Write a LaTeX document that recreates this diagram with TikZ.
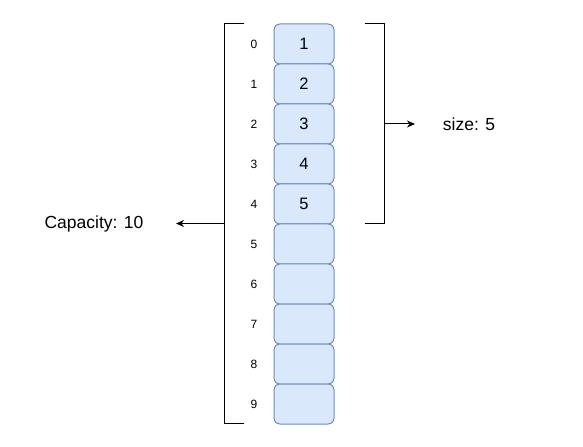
\documentclass[tikz,border=0pt]{standalone}
\usepackage{fontspec}
\setmainfont{Liberation Sans}
\usetikzlibrary{arrows.meta}
\definecolor{boxfill}{HTML}{DAE8FC}
\definecolor{boxline}{HTML}{6C8EBF}
\tikzset{
  cell/.style={draw=boxline, fill=boxfill, line width=1bp, rounded corners=6bp,
    minimum width=60bp, minimum height=40bp, inner sep=0pt, anchor=center,
    font=\fontsize{16.5bp}{18bp}\selectfont},
  idx/.style={inner sep=0pt, anchor=center, font=\fontsize{12bp}{14bp}\selectfont},
  lbl/.style={inner sep=0pt, anchor=center, font=\fontsize{17.5bp}{20bp}\selectfont},
  brk/.style={line width=1bp, black},
  arr/.style={line width=1bp, black, -{Stealth[length=8bp, width=7bp, inset=2.5bp]}}
}
\begin{document}
\begin{tikzpicture}[x=1bp, y=-1bp]
\useasboundingbox (0,0) rectangle (583,447);
\foreach \i/\t in {0/1,1/2,2/3,3/4,4/5,5/,6/,7/,8/,9/} {
  \node[cell] (b\i) at (304, 44+40*\i) {\t};
  \node[idx] (i\i) at (254, 44+40*\i) {\i};
}
% left bracket
\coordinate (lt) at (244,23.5);
\coordinate (lc) at (224,23.5);
\coordinate (ld) at (224,423.5);
\coordinate (lb) at (244,423.5);
\coordinate (lm) at (224,223.5);
\draw[brk] (lt) -- (lc) -- (ld) -- (lb);
% right bracket
\coordinate (rt) at (365,23.5);
\coordinate (rc) at (384,23.5);
\coordinate (rd) at (384,223.5);
\coordinate (rb) at (365,223.5);
\coordinate (rm) at (384,124);
\draw[brk] (rt) -- (rc) -- (rd) -- (rb);
% labels
\node[lbl] (cap) at (94,224) {Capacity: 10};
\node[lbl] (size) at (469,124) {size: 5};
\coordinate (capend) at (176,223.5);
\coordinate (sizeend) at (415,124);
\draw[arr] (lm) -- (capend);
\draw[arr] (rm) -- (sizeend);
\end{tikzpicture}
\end{document}
